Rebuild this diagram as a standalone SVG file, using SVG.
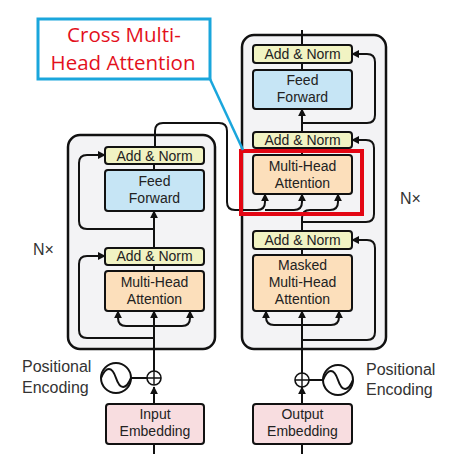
<svg xmlns="http://www.w3.org/2000/svg" width="457" height="454" viewBox="0 0 457 454">
<style>
.blk{fill:#f3f3f5;stroke:#111;stroke-width:2.5}
.box{stroke:#111;stroke-width:2}
.an{fill:#f1f3c3}
.ff{fill:#c6e5f5}
.mha{fill:#fcdfbb}
.emb{fill:#f8dde0}
.t{font-family:"Liberation Sans",Arial,sans-serif;font-size:14px;fill:#222;text-anchor:middle}
.lbl{font-family:"Liberation Sans",Arial,sans-serif;font-size:16px;fill:#333}
.w{fill:none;stroke:#111;stroke-width:2}
.a{fill:none;stroke:#111;stroke-width:2;marker-end:url(#ah)}
.call{font-family:"Open Sans","Liberation Sans",sans-serif;font-size:20.5px;fill:#e3101c;text-anchor:middle}
</style>
<defs>
<marker id="ah" viewBox="0 0 10 10" refX="9" refY="5" markerWidth="4" markerHeight="4" orient="auto" markerUnits="strokeWidth">
<path d="M0,0 L10,5 L0,10 z" fill="#111"/>
</marker>
</defs>
<rect width="457" height="454" fill="#fff"/>
<g id="encoder-block"><rect class="blk" x="68" y="135" width="147" height="214" rx="12"/></g>
<g id="decoder-block"><rect class="blk" x="242" y="35" width="144" height="314" rx="12"/></g>
<g id="connectors">
<path class="w" d="M154,454 V444"/>
<path class="a" d="M154,404 V387"/>
<path class="w" d="M131,378 H147"/>
<path class="a" d="M154,371 V311"/>
<path class="a" d="M154,326 H126 Q118,326 118,318 V311"/>
<path class="a" d="M154,326 H182 Q190,326 190,318 V311"/>
<path class="a" d="M154,338 H87 Q79,338 79,330 V264 Q79,256 87,256 H105"/>
<path class="w" d="M154,271 V265"/>
<path class="a" d="M154,248 V211"/>
<path class="a" d="M154,229 H87 Q79,229 79,221 V163 Q79,155 87,155 H105"/>
<path class="w" d="M154,170 V164"/>
<path class="a" d="M155,147 V131 Q155,123 163,123 H219 Q227,123 227,131 V202 Q227,210 235,210 H257 Q265,210 265,202 V194"/>
<path class="a" d="M265,210 H294 Q302,210 302,202 V194"/>
<path class="a" d="M302,231 V218 Q302,210 310,210 H330 Q338,210 338,202 V194"/>
<path class="a" d="M302,222 H366 Q374,222 374,214 V148 Q374,140 366,140 H352"/>
<path class="w" d="M302,155 V148"/>
<path class="a" d="M302,132 V109"/>
<path class="a" d="M302,123 H367 Q375,123 375,115 V62 Q375,54 367,54 H352"/>
<path class="w" d="M302,70 V63"/>
<path class="w" d="M302,45 V30"/>
<path class="w" d="M302,255 V249"/>
<path class="a" d="M302,340 H367 Q375,340 375,332 V248 Q375,240 367,240 H352"/>
<path class="a" d="M302,373 V311"/>
<path class="a" d="M302,325 H274 Q266,325 266,317 V311"/>
<path class="a" d="M302,325 H331 Q339,325 339,317 V311"/>
<path class="w" d="M309,380 H323"/>
<path class="a" d="M302,404 V387"/>
<path class="w" d="M302,454 V444"/>
</g>
<g id="enc-add-norm-2"><rect class="box an" x="105" y="147" width="99" height="17" rx="3"/><text class="t" x="154.5" y="161">Add &amp; Norm</text></g>
<g id="enc-feed-forward"><rect class="box ff" x="105" y="170" width="99" height="41" rx="3"/><text class="t" x="154.5" y="186">Feed</text><text class="t" x="154.5" y="203">Forward</text></g>
<g id="enc-add-norm-1"><rect class="box an" x="105" y="248" width="99" height="17" rx="3"/><text class="t" x="154.5" y="261">Add &amp; Norm</text></g>
<g id="enc-mha"><rect class="box mha" x="105" y="271" width="99" height="40" rx="3"/><text class="t" x="154.5" y="287">Multi-Head</text><text class="t" x="154.5" y="304">Attention</text></g>
<g id="input-embedding"><rect class="box emb" x="106" y="404" width="98" height="40" rx="3"/><text class="t" x="155" y="419">Input</text><text class="t" x="155" y="436">Embedding</text></g>
<g id="enc-pos-enc">
<circle cx="154" cy="378" r="7" fill="#fff" stroke="#111" stroke-width="1.6"/>
<path d="M147,378 H161 M154,371 V385" stroke="#111" stroke-width="1.4"/>
<circle cx="116" cy="378" r="15" fill="#fff" stroke="#111" stroke-width="2"/>
<path class="w" d="M101,378 C106,366 112,366 116,378 C120,390 126,390 131,378" stroke-width="1.6"/>
<text class="lbl" x="22" y="372">Positional</text><text class="lbl" x="22" y="393">Encoding</text>
</g>
<g id="enc-nx"><text class="lbl" x="33" y="255">N×</text></g>
<g id="dec-add-norm-3"><rect class="box an" x="253" y="45" width="99" height="18" rx="3"/><text class="t" x="302.5" y="59">Add &amp; Norm</text></g>
<g id="dec-feed-forward"><rect class="box ff" x="253" y="70" width="99" height="39" rx="3"/><text class="t" x="302.5" y="85">Feed</text><text class="t" x="302.5" y="102">Forward</text></g>
<g id="dec-add-norm-2"><rect class="box an" x="253" y="132" width="99" height="16" rx="3"/><text class="t" x="302.5" y="145">Add &amp; Norm</text></g>
<g id="dec-cross-mha"><rect class="box mha" x="253" y="155" width="99" height="39" rx="3"/><text class="t" x="302.5" y="171">Multi-Head</text><text class="t" x="302.5" y="188">Attention</text></g>
<g id="dec-add-norm-1"><rect class="box an" x="253" y="231" width="99" height="18" rx="3"/><text class="t" x="302.5" y="245">Add &amp; Norm</text></g>
<g id="dec-masked-mha"><rect class="box mha" x="253" y="255" width="99" height="56" rx="3"/><text class="t" x="302.5" y="270">Masked</text><text class="t" x="302.5" y="287">Multi-Head</text><text class="t" x="302.5" y="304">Attention</text></g>
<g id="output-embedding"><rect class="box emb" x="253" y="404" width="99" height="40" rx="3"/><text class="t" x="302.5" y="419">Output</text><text class="t" x="302.5" y="436">Embedding</text></g>
<g id="dec-pos-enc">
<circle cx="302" cy="380" r="7" fill="#fff" stroke="#111" stroke-width="1.6"/>
<path d="M295,380 H309 M302,373 V387" stroke="#111" stroke-width="1.4"/>
<circle cx="338" cy="380" r="15" fill="#fff" stroke="#111" stroke-width="2"/>
<path class="w" d="M323,380 C328,368 334,368 338,380 C342,392 348,392 353,380" stroke-width="1.6"/>
<text class="lbl" x="366" y="375">Positional</text><text class="lbl" x="366" y="395">Encoding</text>
</g>
<g id="dec-nx"><text class="lbl" x="400" y="204">N×</text></g>
<g id="highlight"><rect x="241" y="151" width="121" height="63" fill="none" stroke="#e30613" stroke-width="4"/></g>
<g id="callout">
<path d="M210,79 L243,150" stroke="#1aa6dc" stroke-width="2.5" fill="none"/>
<rect x="38" y="19" width="172" height="60" fill="#fff" stroke="#1aa6dc" stroke-width="3"/>
<text class="call" x="124" y="42">Cross Multi-</text>
<text class="call" x="123" y="70">Head Attention</text>
</g>
</svg>
